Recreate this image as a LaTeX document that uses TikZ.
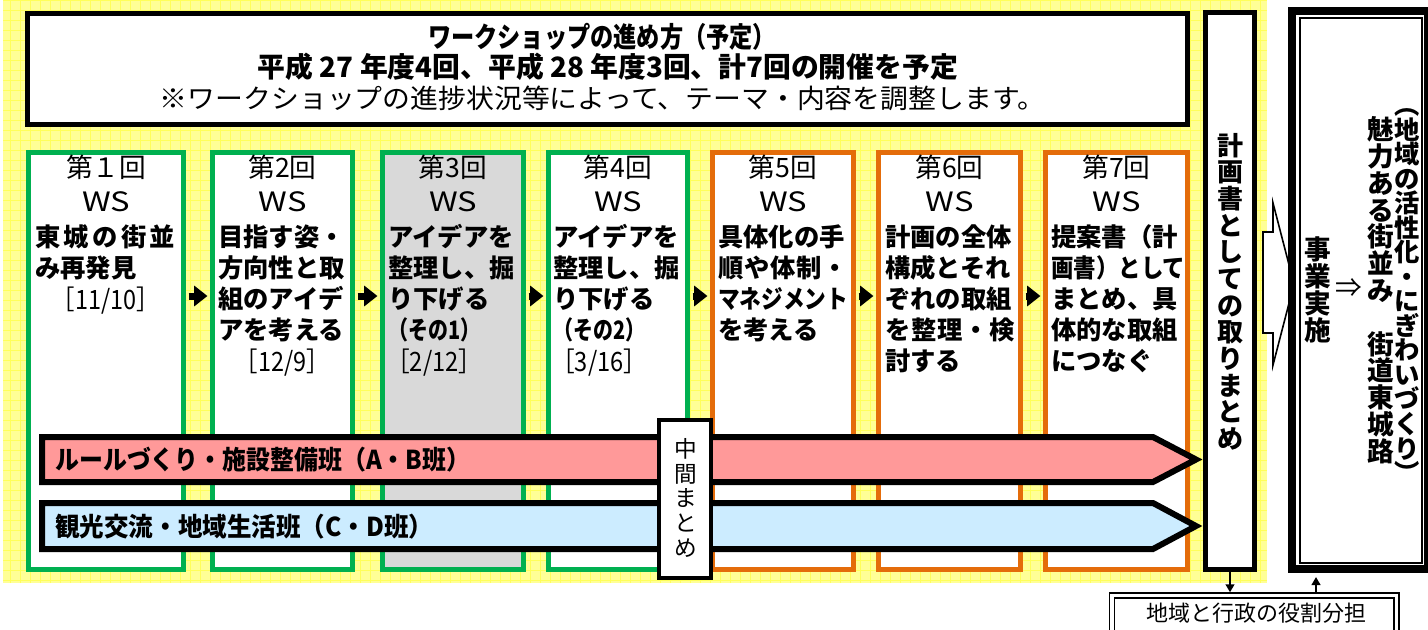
\documentclass[tikz,border=0pt]{standalone}
\usepackage{fontspec}
\setmainfont{Noto Sans CJK JP}
\usetikzlibrary{arrows.meta}
\definecolor{wsgreen}{RGB}{0,176,80}
\definecolor{wsorange}{RGB}{228,108,10}
\definecolor{wsgray}{RGB}{217,217,217}
\definecolor{bpink}{RGB}{255,153,153}
\definecolor{bblue}{RGB}{204,236,255}
\definecolor{ybg}{RGB}{255,255,150}
\definecolor{ygrid}{RGB}{255,255,90}
\newlength\pxu \setlength\pxu{0.75pt}
\newcommand\fw[2]{\resizebox{#1\pxu}{\height}{#2}}
\newcommand\spr[2]{\makebox[#1\pxu][s]{#2}}
\newcommand\strt{\rule{0pt}{0.88em}}
\begin{document}
\begin{tikzpicture}[x=0.75pt,y=-0.75pt,
  wsbox/.style={draw=#1, fill=white, line width=3.75pt, minimum height=312.75pt, inner sep=0pt},
  tx/.style={inner sep=0pt, anchor=base},
  reg/.style={font=\fontsize{20pt}{24pt}\selectfont},
  blk/.style={anchor=north west, inner sep=0pt, align=left, font=\bfseries\fontsize{19pt}{23.25pt}\selectfont},
  warr/.style={line width=5.25pt, -{Triangle[length=10pt,width=15pt]}, shorten <=1.9pt, shorten >=1.9pt},
  band/.style={draw=black, line width=4.5pt, line join=miter},
  bt/.style={anchor=base west, inner sep=0pt, font=\bfseries\fontsize{19.5pt}{24pt}\selectfont},
  vcol/.style={anchor=north, inner sep=0pt, align=center},
  sarr/.style={line width=1.5pt, -{Triangle[length=6pt,width=6.5pt]}}
]
\useasboundingbox (0,0) rectangle (1428,629);
% yellow patterned background
\fill[ybg] (3,0) rectangle (1267,583);
\draw[ygrid, line width=0.35pt, step=7.5pt] (3,0) grid (1267,583);

% header
\node[draw=black, fill=white, line width=3.75pt, minimum width=870pt, minimum height=83.25pt, inner sep=0pt] (head) at (607.5,69) {};
\node[tx, font=\bfseries\fontsize{21pt}{24pt}\selectfont] (h1) at (602,47) {\fw{348}{ワークショップの進め方（予定）}};
\node[tx, font=\bfseries\fontsize{21pt}{24pt}\selectfont] (h2) at (608,77) {\fw{700}{平成 27 年度4回、平成 28 年度3回、計7回の開催を予定}};
\node[tx, reg] (h3) at (602.5,108) {\fw{885}{※ワークショップの進捗状況等によって、テーマ・内容を調整します。}};

% workshop boxes
\node[wsbox=wsgreen, minimum width=116.25pt] (w1) at (106,361) {};
\node[wsbox=wsgreen, minimum width=105pt] (w2) at (282.5,361) {};
\node[wsbox=wsgreen, fill=wsgray, minimum width=105.75pt] (w3) at (453,361) {};
\node[wsbox=wsgreen, minimum width=104.25pt] (w4) at (618,361) {};
\node[wsbox=wsorange, minimum width=105.75pt] (w5) at (783,361) {};
\node[wsbox=wsorange, minimum width=106.5pt] (w6) at (949.5,361) {};
\node[wsbox=wsorange, minimum width=106.5pt] (w7) at (1116.5,361) {};

% titles
\node[tx, reg] (t1) at (106,177) {第１回};
\node[tx, reg] (t2) at (282.5,177) {第2回};
\node[tx, reg] (t3) at (453,177) {第3回};
\node[tx, reg] (t4) at (618,177) {第4回};
\node[tx, reg] (t5) at (783,177) {第5回};
\node[tx, reg] (t6) at (949.5,177) {第6回};
\node[tx, reg] (t7) at (1116.5,177) {第7回};
\node[tx, reg] (s1) at (106,211) {\fw{48}{WS}};
\node[tx, reg] (s2) at (282.5,211) {\fw{48}{WS}};
\node[tx, reg] (s3) at (453,211) {\fw{48}{WS}};
\node[tx, reg] (s4) at (618,211) {\fw{48}{WS}};
\node[tx, reg] (s5) at (783,211) {\fw{48}{WS}};
\node[tx, reg] (s6) at (949.5,211) {\fw{48}{WS}};
\node[tx, reg] (s7) at (1116.5,211) {\fw{48}{WS}};

% contents
\node[blk] (c1) at (35,224.3) {\strt\spr{140}{東\hfil 城\hfil の\hfil 街\hfil 並}\\み再発見};
\node[blk] (c2) at (218,224.3) {\strt 目指す姿・\\方向性と取\\組のアイデ\\アを考える};
\node[blk] (c3) at (388,224.3) {\strt アイデアを\\整理し、掘\\り下げる\\\fw{92}{（その1）}};
\node[blk] (c4) at (553,224.3) {\strt アイデアを\\整理し、掘\\り下げる\\\fw{92}{（その2）}};
\node[blk] (c5) at (718,224.3) {\strt 具体化の手\\\spr{130}{順\hfil や\hfil 体\hfil 制\hfil ・}\\\fw{130}{マネジメント}\\を考える};
\node[blk] (c6) at (885,224.3) {\strt 計画の全体\\構成とそれ\\ぞれの取組\\\spr{130}{を\hfil 整\hfil 理\hfil ・\hfil 検}\\討する};
\node[blk] (c7) at (1051,224.3) {\strt 提案書（計\\\fw{134}{画書）として}\\まとめ、具\\体的な取組\\につなぐ};

% dates
\node[tx, reg] (d1) at (106,309) {\fw{108}{［11/10］}};
\node[tx, reg] (d2) at (282.5,371) {\fw{95}{［12/9］}};
\node[tx, reg, anchor=base west] (d3) at (386,371) {\fw{96}{［2/12］}};
\node[tx, reg, anchor=base west] (d4) at (551,371) {\fw{96}{［3/16］}};

% arrows between workshops
\draw[warr] ([yshift=48.75pt]w1.east) -- ([yshift=48.75pt]w2.west);
\draw[warr] ([yshift=48.75pt]w2.east) -- ([yshift=48.75pt]w3.west);
\draw[warr] ([yshift=48.75pt]w3.east) -- ([yshift=48.75pt]w4.west);
\draw[warr] ([yshift=48.75pt]w4.east) -- ([yshift=48.75pt]w5.west);
\draw[warr] ([yshift=48.75pt]w5.east) -- ([yshift=48.75pt]w6.west);
\draw[warr] ([yshift=48.75pt]w6.east) -- ([yshift=48.75pt]w7.west);

% group bands
\draw[band, fill=bpink] (42,437) -- (1153,437) -- (1196,459.5) -- (1153,482) -- (42,482) -- cycle;
\draw[band, fill=bblue] (42,503) -- (1153,503) -- (1196,526) -- (1153,549) -- (42,549) -- cycle;
\node[bt] (ba) at (55,469) {\fw{415}{ルールづくり・施設整備班（A・B班）}};
\node[bt] (bb) at (55,536) {\fw{378}{観光交流・地域生活班（C・D班）}};

% mid-term summary
\node[draw=black, fill=white, line width=3pt, minimum width=39pt, minimum height=118.5pt, inner sep=0pt] (mid) at (685,499) {};
\node[vcol, font=\fontsize{17pt}{18.6pt}\selectfont] (midt) at (686,437) {\strt 中\\間\\ま\\と\\め};

% plan compilation
\node[draw=black, fill=white, line width=3.75pt, minimum width=36.75pt, minimum height=417.75pt, inner sep=0pt] (plan) at (1230,291) {};
\node[vcol, font=\bfseries\fontsize{19.5pt}{20pt}\selectfont] (plant) at (1230,132) {\strt 計\\画\\書\\と\\し\\て\\の\\取\\り\\ま\\と\\め};

% hollow arrow
\draw[line width=1.2pt, fill=white, line join=miter] (1263,232) -- (1273,232) -- (1273,203) -- (1294,284) -- (1273,365) -- (1273,333) -- (1263,333) -- cycle;

% result box
\node[draw=black, fill=white, line width=6pt, minimum width=102pt, minimum height=418.5pt, inner sep=0pt] (result) at (1360,290) {};
\node[draw=black, line width=1.1pt, minimum width=91.5pt, minimum height=408.75pt, inner sep=0pt] (resin) at (1361,290.5) {};
\node[vcol, font=\bfseries\fontsize{20pt}{20.25pt}\selectfont] (rt1) at (1318,236) {\strt 事\\業\\実\\施};
\node[inner sep=0pt, font=\fontsize{20pt}{24pt}\selectfont] (rarr) at (1349,288) {⇒};
\node[vcol, font=\bfseries\fontsize{20pt}{20.1pt}\selectfont] (rt2) at (1381,116) {\strt 魅\\力\\あ\\る\\街\\並\\み\\　\\街\\道\\東\\城\\路};
\node[vcol, font=\bfseries\fontsize{19pt}{18.4pt}\selectfont] (rt3) at (1407,92) {\strt ︵\\地\\域\\の\\活\\性\\化\\・\\に\\ぎ\\わ\\い\\づ\\く\\り\\︶};

% role sharing label
\node[draw=black, line width=1pt, double=white, double distance=2.8pt, fill=white, minimum width=213.4pt, minimum height=66.75pt, inner sep=0pt] (role) at (1254.25,640) {};
\node[tx, font=\fontsize{16.5pt}{20pt}\selectfont] (rolet) at (1256,621) {地域と行政の役割分担};

% small arrows
\coordinate (u1) at (1316,593);
\draw[sarr, shorten >=1.9pt] (plan.south) -- (plan.south |- role.north);
\draw[sarr, shorten >=3pt] (u1) -- (u1 |- result.south);
\end{tikzpicture}
\end{document}
